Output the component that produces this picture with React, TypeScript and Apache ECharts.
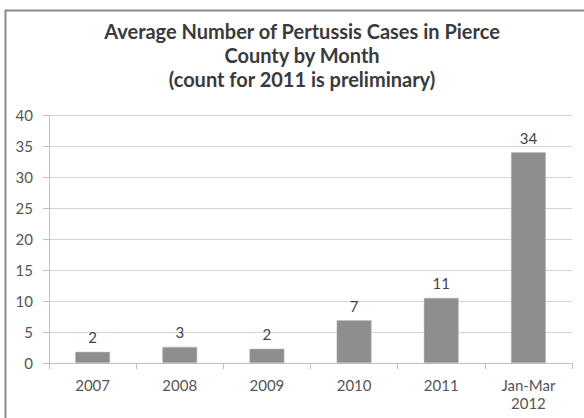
import React, { useEffect, useRef } from "react";
import * as echarts from "echarts";

const categories: string[] = ["2007", "2008", "2009", "2010", "2011", "Jan-Mar\n2012"];
const values: number[] = [1.8, 2.6, 2.3, 6.9, 10.5, 34.0];
const titleLines: string[] = [
  "Average Number of Pertussis Cases in Pierce",
  "County by Month",
  "(count for 2011 is preliminary)",
];

const FONT = "Lato, 'Open Sans', sans-serif";

export default function App() {
  const ref = useRef<HTMLDivElement>(null);
  useEffect(() => {
    if (!ref.current) return;
    const chart = echarts.init(ref.current, undefined, { renderer: "svg" });
    chart.setOption({
      animation: false,
      backgroundColor: "#ffffff",
      graphic: [
        {
          type: "line",
          shape: { x1: 5, y1: 10.5, x2: 584, y2: 10.5 },
          style: { stroke: "#8a8a8a", lineWidth: 2 },
          silent: true,
        },
        {
          type: "line",
          shape: { x1: 5.5, y1: 10, x2: 5.5, y2: 418 },
          style: { stroke: "#8a8a8a", lineWidth: 2 },
          silent: true,
        },
      ],
      title: {
        text: titleLines.join("\n"),
        left: 297,
        top: 14,
        textAlign: "center",
        textStyle: {
          fontFamily: FONT,
          fontSize: 20,
          fontWeight: "bold",
          color: "#3a3a3a",
          lineHeight: 24,
        },
      },
      grid: { left: 49, right: 12, top: 115, bottom: 55, containLabel: false },
      xAxis: {
        type: "category",
        data: categories,
        axisLine: { show: true, lineStyle: { color: "#bfbfbf" } },
        axisTick: { show: true, length: 6, lineStyle: { color: "#bfbfbf" } },
        axisLabel: {
          fontFamily: FONT,
          fontSize: 15,
          color: "#555555",
          margin: 13,
          lineHeight: 18,
        },
      },
      yAxis: {
        type: "value",
        min: 0,
        max: 40,
        interval: 5,
        axisLine: { show: true, lineStyle: { color: "#bfbfbf" } },
        axisTick: { show: true, length: 6, lineStyle: { color: "#bfbfbf" } },
        splitLine: { show: true, lineStyle: { color: "#d4d4d4" } },
        axisLabel: {
          fontFamily: FONT,
          fontSize: 15,
          color: "#555555",
          margin: 16,
        },
      },
      series: [
        {
          type: "bar",
          data: values,
          barWidth: "40%",
          itemStyle: { color: "#8e8e91", borderColor: "#bdbdbd", borderWidth: 0.5 },
          label: {
            show: true,
            position: "top",
            distance: 7,
            fontFamily: FONT,
            fontSize: 15,
            color: "#444444",
            formatter: (p: any) => String(Math.round(p.value)),
          },
        },
      ],
    });
    return () => chart.dispose();
  }, []);
  return (
    <div style={{ position: "fixed", left: 0, top: 0, width: 584, height: 418, overflow: "hidden", background: "#fff" }}>
      <div ref={ref} style={{ width: 584, height: 418 }} />
    </div>
  );
}
